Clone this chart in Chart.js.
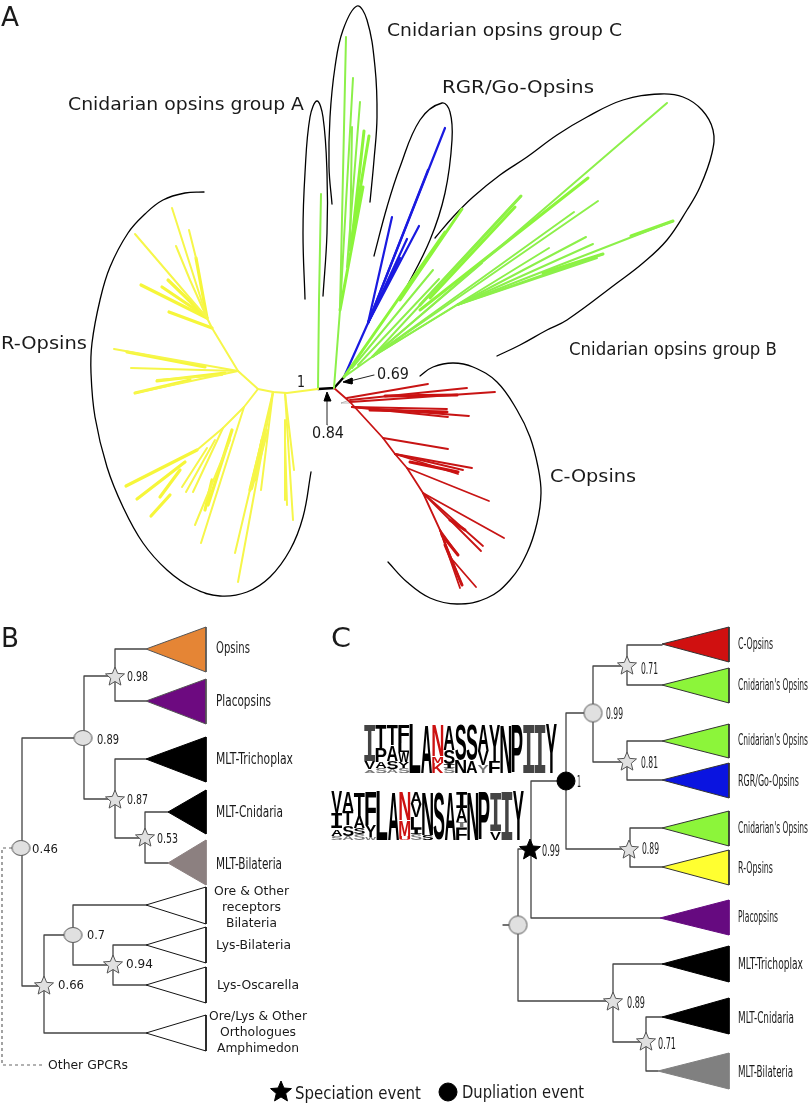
<!DOCTYPE html>
<html>
<head>
<meta charset="utf-8">
<title>Opsin phylogeny</title>
<script src="https://cdn.jsdelivr.net/npm/chart.js@4/dist/chart.umd.js"></script>
<style>
  html, body { margin: 0; padding: 0; background: #fff; }
  canvas { display: block; }
</style>
</head>
<body>
<canvas id="tree" width="810" height="1103"></canvas>
<script>
// panel A: branches as [[x,y],[x,y],...]
const rootBranches = [
  [[318,389],[334,388],[344,377]]
];
const yellowThin = [
  [[318,389],[287,393],[273,392],[258,389],[238,371],[212,328],[207,318]],
  [[207,318],[172,208]], [[207,318],[135,234]], [[196,258],[189,230]], [[207,318],[190,280],[176,246]],
  [[238,371],[114,349]], [[238,371],[131,368]], [[238,371],[135,393]], [[222,375],[157,380]],
  [[258,389],[244,407],[223,428],[197,450]],
  [[223,428],[193,492]], [[215,440],[186,492]], [[207,448],[182,487]],
  [[244,407],[201,543]], [[230,440],[195,525]],
  [[273,392],[238,582]], [[273,392],[235,553]], [[273,392],[261,490]], [[268,430],[252,489]],
  [[285,393],[294,470]], [[285,393],[293,520]], [[285,420],[285,500]], [[285,440],[287,505]]
];
const yellowThick = [
  [[207,318],[196,258]], [[207,318],[141,285]], [[205,316],[162,287]], [[205,316],[168,280]],
  [[212,328],[169,312]],
  [[205,367],[127,352]], [[225,373],[157,381]], [[190,380],[135,393]],
  [[197,450],[126,486]], [[185,462],[137,499]], [[180,470],[160,497]], [[170,495],[151,516]],
  [[232,430],[208,505]], [[212,480],[205,510]],
  [[265,430],[250,490]], [[262,440],[255,480]]
];
const greenThin = [
  [[318,389],[319,300],[321,194]],
  [[334,388],[340,310],[346,37]],
  [[340,310],[353,78]], [[347,267],[360,102]], [[350,250],[352,127]],
  [[344,377],[372,357],[667,103]],
  [[372,357],[598,201]], [[372,357],[574,212]], [[372,357],[549,248]], [[372,357],[457,305]],
  [[457,305],[586,237]], [[457,305],[593,244]], [[457,305],[603,254]], [[457,305],[597,258]], [[457,305],[673,221]],
  [[372,357],[482,263]], [[352,368],[433,270]], [[358,365],[439,279]], [[372,357],[521,196]]
];
const greenThick = [
  [[340,310],[363,187]], [[350,250],[369,136]], [[352,240],[364,131]],
  [[344,377],[445,232]], [[400,300],[462,209]],
  [[420,310],[588,178]], [[430,298],[515,207]], [[420,305],[521,196]],
  [[631,236],[673,221]], [[543,273],[603,254]]
];
const blueBranches = [
  [[344,377],[368,323],[445,128]],
  [[368,323],[392,217]], [[368,323],[419,226]], [[368,323],[407,239]], [[368,323],[400,258]], [[368,323],[428,170]]
];
const redThin = [
  [[334,388],[350,402],[383,438],[395,454],[407,468],[423,493],[440,530],[450,557],[476,587]],
  [[347,398],[428,384]], [[350,402],[495,392]], [[350,400],[467,388]],
  [[352,407],[469,416]], [[352,407],[448,417]], [[352,407],[447,409]],
  [[383,438],[448,449]], [[395,454],[472,468]], [[395,454],[463,470]], [[395,454],[458,474]],
  [[407,468],[489,501]], [[423,493],[504,538]], [[423,493],[483,546]], [[423,493],[481,551]],
  [[440,530],[462,585]], [[440,530],[460,588]], [[440,530],[458,555]]
];
const redThick = [
  [[385,396],[457,395]], [[370,410],[447,412]], [[410,462],[458,472]],
  [[450,520],[465,530]], [[445,545],[462,585]], [[442,535],[458,555]]
];
const smallGrayLines = [
  [[341,403],[350,400]], [[341,403],[352,403]]
];

// group outlines, one list of read-off points each
const outlineGroupA = [[305,299],[303,233],[305,173],[310,117],[317,101],[323,117],[327,173],[327,233],[323,296]];
const outlineGroupC = [[332,204],[329,167],[330,117],[335,67],[343,30],[357,6],[367,20],[375,67],[377,117],[374,160],[370,202]];
const outlineRgr = [[374,256],[387,207],[400,167],[420,120],[442,103],[450,112],[452,140],[445,193],[430,240],[403,294]];
const outlineGroupB = [[435,238],[453,217],[473,197],[500,175],[527,157],[557,135],[587,117],[623,100],[660,94],[683,97],[702,110],[713,130],[712,153],[700,187],[687,210],[667,240],[643,263],[617,283],[567,320],[547,330],[520,345],[497,356]];
const outlineROpsins = [[204,192],[185,193],[163,200],[145,214],[128,233],[110,267],[100,300],[92,343],[91,373],[95,417],[107,467],[123,507],[143,543],[167,570],[193,588],[220,596],[247,592],[270,577],[290,550],[303,517],[311,472]];
const outlineCOpsins = [[420,376],[433,367],[453,363],[473,367],[497,382],[517,410],[530,437],[538,467],[541,493],[537,523],[527,553],[510,580],[487,598],[457,604],[430,598],[407,582],[388,562]];

const arrowLines = [
  [[327,425],[327,400]], [[374,375],[350,381]]
];
const arrowHeads = [
  [[327,392],[331,401],[324,401]], [[343,382],[352,378],[352,384]]
];

// panel B
const treeB = [
  [[74,738],[22,738],[22,986],[44,986]],
  [[115,676],[84,676],[84,799],[115,799]],
  [[146,649],[115,649],[115,701],[146,701]],
  [[146,759],[115,759],[115,838],[145,838]],
  [[168,812],[145,812],[145,863],[168,863]],
  [[73,935],[44,935],[44,1033],[146,1033]],
  [[146,905],[73,905],[73,965],[113,965]],
  [[146,945],[113,945],[113,985],[146,985]]
];
const dashedB = [[12,848],[2,848],[2,1065],[45,1065]];
const trianglesB = [
  { pts: [[146,649],[206,627],[206,672]], fill: '#e58535', line: '#555' },
  { pts: [[146,701],[206,679],[206,724]], fill: '#6d0a80', line: '#555' },
  { pts: [[146,759],[206,737],[206,782]], fill: '#000', line: '#000' },
  { pts: [[168,812],[206,790],[206,834]], fill: '#000', line: '#000' },
  { pts: [[168,863],[206,840],[206,885]], fill: '#8c8080', line: '#8c8080' },
  { pts: [[146,905],[206,887],[206,924]], fill: '#fff', line: '#111' },
  { pts: [[146,945],[206,927],[206,963]], fill: '#fff', line: '#111' },
  { pts: [[146,985],[206,967],[206,1003]], fill: '#fff', line: '#111' },
  { pts: [[146,1033],[206,1015],[206,1051]], fill: '#fff', line: '#111' }
];
const starsB = [[115,677],[115,800],[145,838],[113,965],[44,986]];
const ovalsB = [[83,738],[21,848],[73,935]];

// panel C
const treeC = [
  [[530,849],[518,849],[518,1001],[613,1001]],
  [[566,781],[531,781],[531,918],[660,918]],
  [[593,713],[566,713],[566,849],[630,849]],
  [[628,666],[593,666],[593,762],[628,762]],
  [[662,645],[627,645],[627,685],[662,685]],
  [[662,741],[627,741],[627,780],[662,780]],
  [[662,828],[630,828],[630,867],[662,867]],
  [[662,964],[613,964],[613,1042],[646,1042]],
  [[662,1017],[646,1017],[646,1071],[658,1071]],
  [[503,925],[510,925]]
];
const trianglesC = [
  { pts: [[662,644],[729,627],[729,662]], fill: '#d01010', line: '#333' },
  { pts: [[662,685],[729,668],[729,703]], fill: '#8cf53a', line: '#333' },
  { pts: [[662,741],[729,724],[729,758]], fill: '#8cf53a', line: '#333' },
  { pts: [[662,780],[729,763],[729,798]], fill: '#0a14e0', line: '#333' },
  { pts: [[662,828],[729,811],[729,846]], fill: '#8cf53a', line: '#333' },
  { pts: [[662,867],[729,850],[729,885]], fill: '#ffff30', line: '#333' },
  { pts: [[660,918],[729,900],[729,935]], fill: '#660a80', line: '#660a80' },
  { pts: [[662,964],[729,946],[729,982]], fill: '#000', line: '#000' },
  { pts: [[662,1017],[729,998],[729,1034]], fill: '#000', line: '#000' },
  { pts: [[658,1071],[729,1053],[729,1089]], fill: '#808080', line: '#808080' }
];
const starsC = [[627,666],[627,762],[629,850],[613,1002],[646,1042]];
const roundsC = [[593,713],[518,925]];
const blackStars = [[530,850],[281,1092]];
const blackRounds = [[566,781],[448,1092]];

// text: [string, x, baseline, font size, fitted width]
const labelsA = [
  ['A', 1, 26, 27, 18],
  ['Cnidarian opsins group A', 68, 110, 17, 236],
  ['Cnidarian opsins group C', 387, 36, 17, 235],
  ['RGR/Go-Opsins', 442, 93, 17, 152],
  ['R-Opsins', 1, 349, 17, 86],
  ['Cnidarian opsins group B', 569, 355, 17, 208],
  ['C-Opsins', 550, 482, 17, 86],
  ['1', 297, 387, 16, 8],
  ['0.84', 312, 438, 15, 32],
  ['0.69', 377, 379, 15, 32]
];
const labelsB = [
  ['B', 1, 647, 27, 18],
  ['Opsins', 216, 653, 15, 34], ['Placopsins', 216, 706, 15, 55],
  ['MLT-Trichoplax', 216, 764, 15, 77], ['MLT-Cnidaria', 216, 817, 15, 67], ['MLT-Bilateria', 216, 869, 15, 66],
  ['Ore & Other', 214, 895, 12, 75], ['receptors', 222, 911, 12, 59], ['Bilateria', 226, 927, 12, 51],
  ['Lys-Bilateria', 216, 949, 12, 75], ['Lys-Oscarella', 217, 989, 12, 82],
  ['Ore/Lys & Other', 209, 1020, 12, 98], ['Orthologues', 220, 1036, 12, 76], ['Amphimedon', 217, 1052, 12, 82],
  ['Other GPCRs', 48, 1069, 12, 80],
  ['0.98', 127, 681, 14, 21], ['0.89', 97, 744, 14, 22], ['0.87', 127, 804, 14, 21], ['0.53', 157, 843, 14, 21],
  ['0.46', 32, 853, 13, 26], ['0.7', 87, 939, 13, 18], ['0.94', 126, 968, 13, 27], ['0.66', 58, 989, 13, 26]
];
const labelsC = [
  ['C', 331, 647, 27, 20],
  ['C-Opsins', 738, 649, 15, 35], ["Cnidarian's Opsins", 738, 690, 15, 70], ["Cnidarian's Opsins", 738, 745, 15, 70],
  ['RGR/Go-Opsins', 738, 786, 15, 61], ["Cnidarian's Opsins", 738, 833, 15, 70], ['R-Opsins', 738, 873, 15, 35],
  ['Placopsins', 738, 922, 15, 40], ['MLT-Trichoplax', 738, 969, 15, 65], ['MLT-Cnidaria', 738, 1023, 15, 56], ['MLT-Bilateria', 738, 1077, 15, 55],
  ['0.71', 641, 674, 15, 17], ['0.99', 606, 719, 15, 17], ['0.81', 641, 768, 15, 17], ['1', 577, 787, 15, 4],
  ['0.89', 642, 854, 15, 17], ['0.99', 542, 856, 15, 18], ['0.89', 627, 1008, 15, 18], ['0.71', 658, 1049, 15, 18],
  ['Speciation event', 295, 1099, 17, 126], ['Dupliation event', 462, 1098, 17, 122]
];

// sequence logos: per column [letter, top, bottom, colour]
const RED = '#cc1111', GRAY = '#777';
const logoTopStart = [364, 11.35];
const logoTop = [
  [['I',725,761,'#444'],['V',762,769],['A',770,773,GRAY]],
  [['T',725,748],['P',748,762],['A',762,768],['S',768,773,GRAY]],
  [['T',725,745],['A',745,761],['S',761,769],['A',769,773,GRAY]],
  [['F',725,743],['L',743,752],['W',752,762],['Y',762,768],['S',768,773,GRAY]],
  [['L',725,773]],
  [['A',725,773]],
  [['N',725,756,RED],['M',756,763,RED],['K',763,773,RED]],
  [['A',725,750],['S',750,764],['I',764,768],['S',768,773,GRAY]],
  [['S',725,760],['N',760,773]],
  [['S',725,761],['A',761,773]],
  [['A',725,751],['V',751,765],['Y',765,773,GRAY]],
  [['Y',725,762],['F',762,773]],
  [['N',725,773]],
  [['P',725,773]],
  [['I',725,773,'#444']],
  [['I',725,773,'#444']],
  [['Y',725,773]]
];
const logoBottomStart = [331, 11.35];
const logoBottom = [
  [['V',792,813],['I',813,828],['A',829,836],['S',836,840,GRAY]],
  [['A',792,811],['T',811,825],['S',825,836],['A',836,840,GRAY]],
  [['T',792,817],['A',817,828],['S',828,834],['S',834,840,GRAY]],
  [['F',792,825],['Y',825,837],['W',837,840,GRAY]],
  [['L',792,840]],
  [['A',792,840]],
  [['N',792,820,RED],['M',820,836,RED],['U',836,840,RED]],
  [['A',792,804],['V',804,817],['L',817,829],['I',829,834],['S',834,840,GRAY]],
  [['N',792,835],['S',835,840]],
  [['S',792,840]],
  [['A',792,840]],
  [['I',792,808],['A',808,822],['I',822,828,GRAY],['F',828,840]],
  [['N',792,840]],
  [['P',792,840]],
  [['I',792,831,'#444'],['V',833,840]],
  [['I',792,840,'#444']],
  [['Y',792,840]]
];

// canvas point styles for the five pointed stars and the flattened nodes
function starMarker(fill, stroke, r) {
  const c = document.createElement('canvas');
  c.width = c.height = r * 2 + 4;
  const g = c.getContext('2d');
  g.translate(r + 2, r + 2);
  g.beginPath();
  for (let i = 0; i < 10; i++) {
    const a = -Math.PI / 2 + i * Math.PI / 5;
    const d = i % 2 ? r * 0.45 : r;
    g.lineTo(Math.cos(a) * d, Math.sin(a) * d);
  }
  g.closePath();
  g.fillStyle = fill;
  g.fill();
  g.strokeStyle = stroke;
  g.lineWidth = 1;
  g.stroke();
  return c;
}
function ovalMarker(rx, ry) {
  const c = document.createElement('canvas');
  c.width = rx * 2 + 3;
  c.height = ry * 2 + 3;
  const g = c.getContext('2d');
  g.beginPath();
  g.ellipse(rx + 1.5, ry + 1.5, rx, ry, 0, 0, Math.PI * 2);
  g.fillStyle = '#e0e0e0';
  g.fill();
  g.strokeStyle = '#555';
  g.stroke();
  return c;
}

const toPoints = pts => pts.map(p => ({ x: p[0], y: p[1] }));
const datasets = [];

function addLines(list, color, width, extra) {
  list.forEach(pts => datasets.push(Object.assign({
    data: toPoints(pts), showLine: true, borderColor: color, borderWidth: width,
    pointRadius: 0, borderCapStyle: 'round', borderJoinStyle: 'round', fill: false, order: 3
  }, extra)));
}
function addTriangles(list) {
  list.forEach(t => datasets.push({
    data: toPoints(t.pts.concat([t.pts[0]])), showLine: true, borderColor: t.line, borderWidth: 1,
    backgroundColor: t.fill, fill: 'shape', pointRadius: 0, order: 2
  }));
}
function addMarkers(list, style, radius) {
  datasets.push({
    data: toPoints(list), showLine: false, pointStyle: style, pointRadius: radius,
    backgroundColor: style === 'circle' ? '#000' : undefined, borderColor: '#000', order: 1
  });
}

addLines(yellowThin, '#f6f64a', 2);
addLines(yellowThick, '#f6f63a', 3.2);
addLines(greenThin, '#8cf04a', 2);
addLines(greenThick, '#8cf53a', 3);
addLines(blueBranches, '#1a1ae0', 2.2);
addLines(redThin, '#c81414', 1.8);
addLines(redThick, '#cc1010', 3);
addLines(smallGrayLines, '#aaa', 0.8);
addLines(rootBranches, '#000', 2.4);
addLines([outlineGroupA, outlineGroupC, outlineRgr, outlineGroupB, outlineROpsins, outlineCOpsins], '#000', 1.3, { tension: 0.4 });
addLines(arrowLines, '#222', 1);
addLines(treeB, '#444', 1.3);
addLines([dashedB], '#666', 1.2, { borderDash: [3, 3], borderCapStyle: 'butt' });
addLines(treeC, '#444', 1.3);
addTriangles(arrowHeads.map(pts => ({ pts, fill: '#000', line: '#000' })));
addTriangles(trianglesB);
addTriangles(trianglesC);
addMarkers(starsB.concat(starsC), starMarker('#e0e0e0', '#555', 10), 8);
addMarkers(ovalsB, ovalMarker(9, 7.5), 8);
addMarkers(roundsC, ovalMarker(9, 9), 8);
addMarkers(blackStars, starMarker('#000', '#000', 11), 8);
addMarkers(blackRounds, 'circle', 9);

const textPlugin = {
  id: 'treeText',
  afterDatasetsDraw(chart) {
    const { ctx, scales } = chart;
    const fx = v => scales.x.getPixelForValue(v);
    const fy = v => scales.y.getPixelForValue(v);
    ctx.save();
    ctx.textBaseline = 'alphabetic';
    ctx.fillStyle = '#1a1a1a';
    labelsA.concat(labelsB, labelsC).forEach(([text, x, y, size, width]) => {
      ctx.font = size + 'px "DejaVu Sans"';
      ctx.save();
      ctx.translate(fx(x), fy(y));
      ctx.scale(width / ctx.measureText(text).width, 1);
      ctx.fillText(text, 0, 0);
      ctx.restore();
    });
    const drawLogo = (columns, start) => columns.forEach((col, i) => {
      const left = start[0] + i * start[1];
      col.forEach(([letter, top, bottom, color]) => {
        ctx.font = letter === 'I' ? 'bold 100px "Liberation Mono"' : 'bold 100px "Liberation Sans"';
        const m = ctx.measureText(letter);
        const w = m.actualBoundingBoxRight + m.actualBoundingBoxLeft;
        const h = m.actualBoundingBoxAscent + m.actualBoundingBoxDescent;
        ctx.save();
        ctx.fillStyle = color || '#000';
        ctx.translate(fx(left + 0.2), fy(bottom));
        ctx.scale((start[1] - 0.4) / w, (bottom - top) / h);
        ctx.fillText(letter, m.actualBoundingBoxLeft, -m.actualBoundingBoxDescent);
        ctx.restore();
      });
    });
    drawLogo(logoTop, logoTopStart);
    drawLogo(logoBottom, logoBottomStart);
    ctx.restore();
  }
};

new Chart(document.getElementById('tree').getContext('2d'), {
  type: 'scatter',
  data: { datasets },
  options: {
    responsive: false,
    animation: false,
    events: [],
    layout: { padding: 0, autoPadding: false },
    scales: {
      x: { type: 'linear', min: 0, max: 810, display: false },
      y: { type: 'linear', min: 0, max: 1103, reverse: true, display: false }
    },
    plugins: { legend: { display: false }, tooltip: { enabled: false } }
  },
  plugins: [textPlugin]
});
</script>
</body>
</html>
